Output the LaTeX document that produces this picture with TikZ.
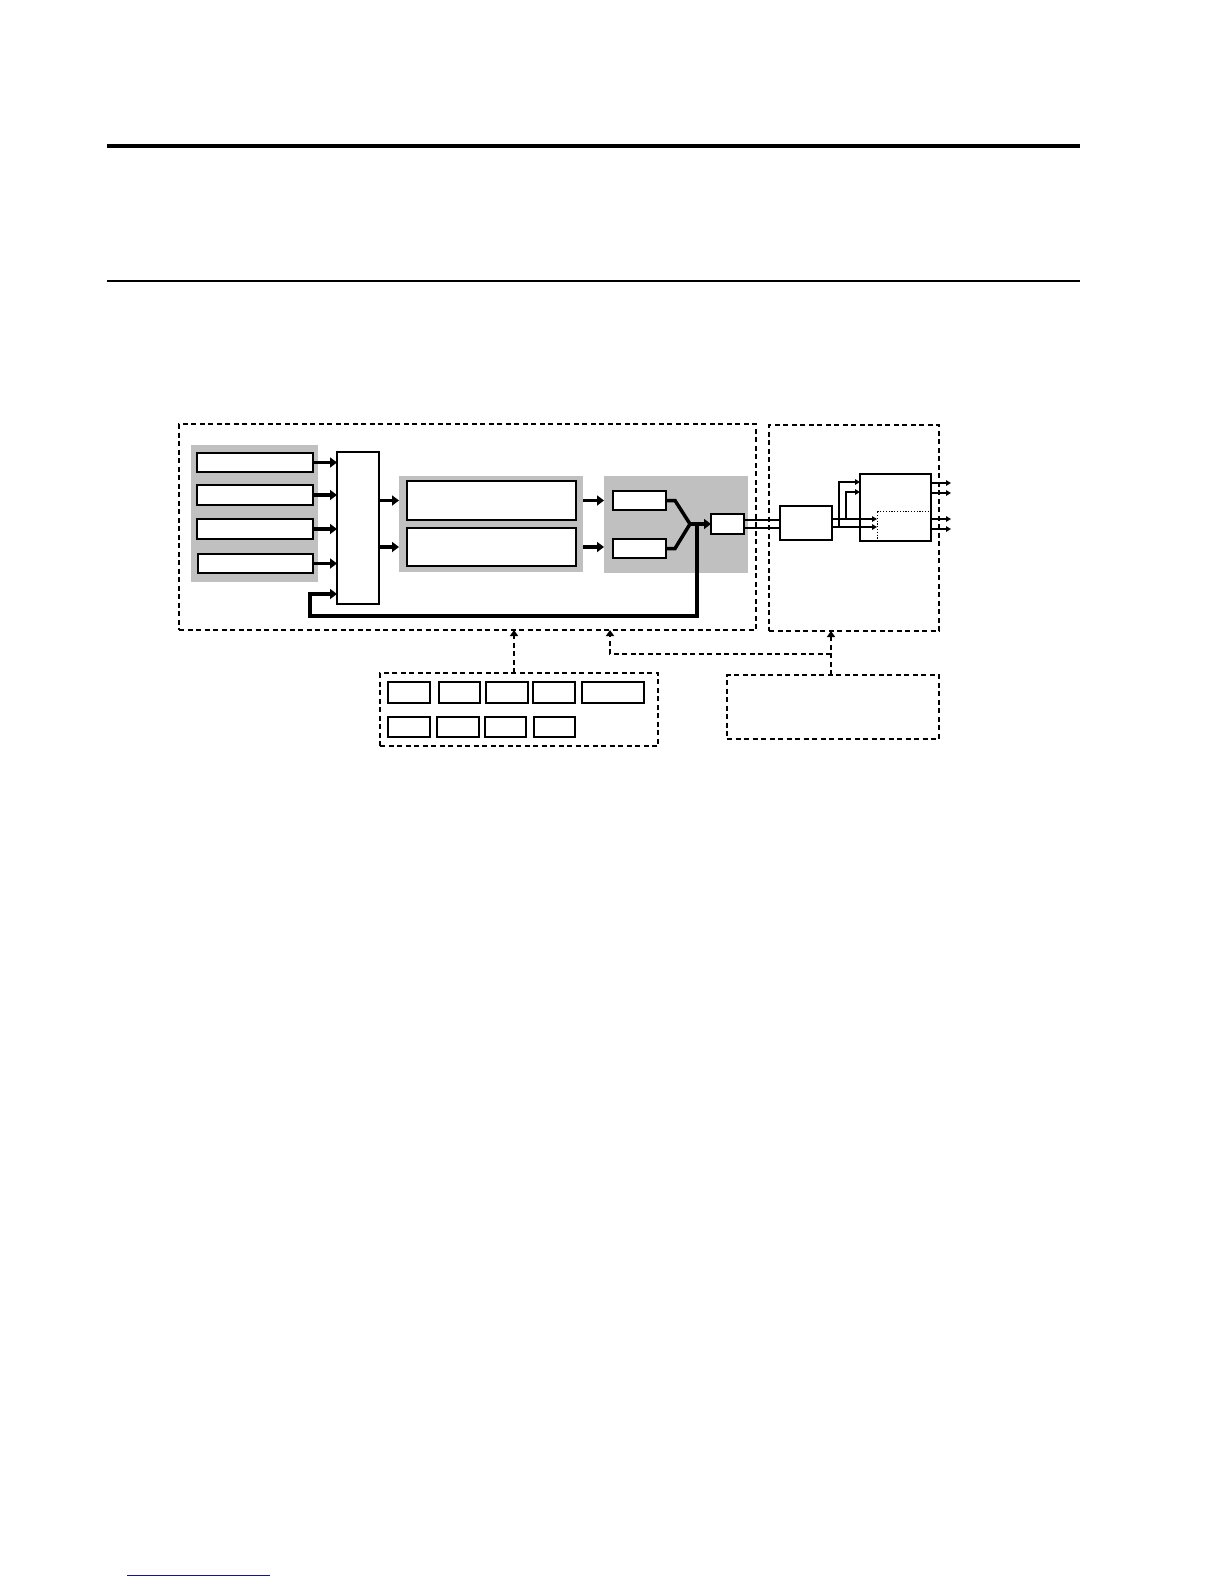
\documentclass[tikz,border=0pt]{standalone}
\usetikzlibrary{arrows.meta}
\definecolor{panelgray}{RGB}{192,192,192}
\definecolor{footblue}{RGB}{20,20,150}
\begin{document}
\begin{tikzpicture}[x=1pt,y=-1pt,
  box/.style={draw=black,line width=2pt,fill=white,inner sep=0pt,outer sep=0pt},
  panel/.style={fill=panelgray,draw=none,inner sep=0pt,outer sep=0pt},
  dbox/.style={draw=black,line width=1.8pt,dash pattern=on 5pt off 3.5pt,inner sep=0pt,outer sep=0pt},
  dotbox/.style={draw=black,line width=0.9pt,dash pattern=on 1.2pt off 1.6pt,inner sep=0pt,outer sep=0pt},
  thickarrow/.style={line width=3.5pt,-{Triangle[length=7pt,width=10pt]}},
  thickline/.style={line width=3.5pt},
  thinline/.style={line width=1.4pt},
  thinarrow/.style={line width=1.4pt,-{Triangle[length=5pt,width=5.5pt]}},
  darrow/.style={line width=1.8pt,dash pattern=on 5pt off 3.5pt,-{Triangle[length=6pt,width=8pt]}},
  dline/.style={line width=1.8pt,dash pattern=on 5pt off 3.5pt}
]
\useasboundingbox (0,0) rectangle (1224,1584);

% header rules
\coordinate (r1a) at (107,146); \coordinate (r1b) at (1080,146);
\draw[line width=4pt] (r1a) -- (r1b);
\coordinate (r2a) at (107,281); \coordinate (r2b) at (1080,281);
\draw[line width=2pt] (r2a) -- (r2b);

% footer line
\coordinate (f1) at (127,1575); \coordinate (f2) at (270,1575);
\draw[footblue,line width=1pt] (f1) -- (f2);

% outer dashed boxes
\node[dbox,minimum width=577pt,minimum height=206pt] (main) at (467.5,527) {};
\node[dbox,minimum width=170pt,minimum height=206pt] (right) at (854,528) {};

% gray panels
\node[panel,minimum width=127pt,minimum height=137pt] (P1) at (254.5,513.5) {};
\node[panel,minimum width=184pt,minimum height=96pt] (P2) at (491,524) {};
\node[panel,minimum width=144pt,minimum height=97pt] (P3) at (676,524.5) {};

% panel 1 boxes
\node[box,minimum width=116pt,minimum height=19pt] (b1) at (255,462.5) {};
\node[box,minimum width=116pt,minimum height=20pt] (b2) at (255,495) {};
\node[box,minimum width=116pt,minimum height=20pt] (b3) at (255,529) {};
\node[box,minimum width=115pt,minimum height=19pt] (b4) at (255.5,563.5) {};

% mux
\node[box,minimum width=42pt,minimum height=152pt] (mux) at (358,528) {};

% panel 2 boxes
\node[box,minimum width=169pt,minimum height=39pt] (A) at (491.5,500.5) {};
\node[box,minimum width=169pt,minimum height=38pt] (B) at (491.5,547) {};

% panel 3 boxes
\node[box,minimum width=53pt,minimum height=19pt] (C) at (639.5,500.5) {};
\node[box,minimum width=53pt,minimum height=19pt] (D) at (639.5,548.5) {};
\node[box,minimum width=33pt,minimum height=20pt] (E) at (727.5,524) {};

% right section
\node[box,minimum width=52pt,minimum height=34pt] (F) at (806,523) {};
\node[box,minimum width=71pt,minimum height=67pt] (G) at (895.5,507.5) {};
\node[dotbox,minimum width=53pt,minimum height=30pt] (G2) at (903.5,526) {};
\draw[line width=2pt] (G.north west) rectangle (G.south east);

% bottom boxes
\node[dbox,minimum width=278pt,minimum height=73pt] (H) at (519,709.5) {};
\node[box,minimum width=42pt,minimum height=21pt] (s1) at (409,692.5) {};
\node[box,minimum width=41pt,minimum height=21pt] (s2) at (459.5,692.5) {};
\node[box,minimum width=42pt,minimum height=21pt] (s3) at (507,692.5) {};
\node[box,minimum width=42pt,minimum height=21pt] (s4) at (554,692.5) {};
\node[box,minimum width=62pt,minimum height=21pt] (s5) at (613,692.5) {};
\node[box,minimum width=42pt,minimum height=20pt] (t1) at (409,727) {};
\node[box,minimum width=42pt,minimum height=20pt] (t2) at (458,727) {};
\node[box,minimum width=41pt,minimum height=20pt] (t3) at (505.5,727) {};
\node[box,minimum width=41pt,minimum height=20pt] (t4) at (554.5,727) {};
\node[dbox,minimum width=212pt,minimum height=64pt] (I) at (833,707) {};

% panel 1 -> mux
\foreach \b in {b1,b2,b3,b4}
  \draw[thickarrow] (\b.east) -- (\b.east -| mux.west);

% mux -> panel 2
\draw[thickarrow] (mux.east |- A.center) -- (P2.west |- A.center);
\draw[thickarrow] (mux.east |- B.center) -- (P2.west |- B.center);

% panel 2 -> panel 3
\draw[thickarrow] (P2.east |- A.center) -- (P3.west |- A.center);
\draw[thickarrow] (P2.east |- B.center) -- (P3.west |- B.center);

% merge
\coordinate (m) at (690,524);
\coordinate (fb) at (697,524);
\draw[thickline,line join=miter] (C.east) -- ++(9,0) -- (m);
\draw[thickline,line join=miter] (D.east) -- ++(9,0) -- (m);
\draw[thickarrow] (m) -- (E.west);

% feedback
\coordinate (fb1) at (697,616);
\coordinate (fb2) at (310,616);
\coordinate (fb3) at (310,594);
\draw[thickarrow,line join=miter] (fb) -- (fb1) -- (fb2) -- (fb3) -- (fb3 -| mux.west);

% E -> F double line
\coordinate (e1) at (744,520); \coordinate (e2) at (744,528);
\draw[thinline] (e1) -- (e1 -| F.west);
\draw[thinline] (e2) -- (e2 -| F.west);

% F -> G
\coordinate (o1) at (832,519); \coordinate (o2) at (832,527);
\draw[thinarrow] (o1) -- (o1 -| G2.west);
\draw[thinarrow] (o2) -- (o2 -| G2.west);
\coordinate (v1) at (839,527); \coordinate (v1t) at (839,482);
\coordinate (v2) at (846,519); \coordinate (v2t) at (846,492);
\draw[thinarrow] (v1) -- (v1t) -- (v1t -| G.west);
\draw[thinarrow] (v2) -- (v2t) -- (v2t -| G.west);

% G outputs
\foreach \yy [count=\k] in {483,493,519,529}{
  \coordinate (go\k) at (931,\yy);
  \coordinate (gt\k) at (951,\yy);
  \draw[thinarrow] (go\k) -- (gt\k);
}

% dashed control arrows
\coordinate (hx) at (514,673);
\draw[darrow] (hx) -- (hx |- main.south);
\coordinate (ij) at (831,654);
\coordinate (il) at (610,654);
\draw[darrow] (I.north -| ij) -- (ij |- right.south);
\draw[darrow] (ij) -- (il) -- (il |- main.south);

\end{tikzpicture}
\end{document}
